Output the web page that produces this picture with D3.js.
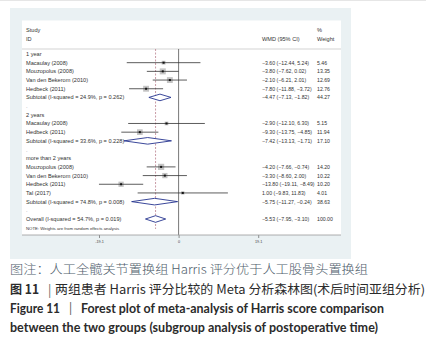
<!DOCTYPE html>
<html><head><meta charset="utf-8">
<script src="https://cdn.jsdelivr.net/npm/d3@7"></script>
<style>
html,body{margin:0;padding:0;background:#fff;}
svg{display:block;}
</style></head>
<body>
<svg id="c" width="432" height="346"></svg>
<script>
// ---- data ----
const groups = ["1 year", "2 years", "more than 2 years"];
const studies = ["Macaulay (2008)", "Mouzopolus (2008)", "Van den Bekerom (2010)", "Hedbeck (2011)",
                 "Macaulay (2008)", "Hedbeck (2011)",
                 "Mouzopolus (2008)", "Van den Bekerom (2010)", "Hedbeck (2011)", "Tal (2017)"];
const studyGroup = [0, 0, 0, 0, 1, 1, 2, 2, 2, 2];
const wmd   = [-3.60, -3.80, -2.10, -7.80, -2.90, -9.30, -4.20, -3.30, -13.80, 1.00];
const lower = [-12.44, -7.62, -6.21, -11.88, -12.10, -13.75, -7.66, -8.60, -19.11, -9.83];
const upper = [5.24, 0.02, 2.01, -3.72, 6.30, -4.85, -0.74, 2.00, -8.49, 11.83];
const weight = [5.46, 13.35, 12.69, 12.76, 5.15, 11.94, 14.20, 10.22, 10.20, 4.01];
const subI2 = ["24.9%", "33.6%", "74.8%"];
const subP = ["0.262", "0.228", "0.008"];
const subWmd = [-4.47, -7.42, -5.75];
const subLower = [-7.13, -13.13, -11.27];
const subUpper = [-1.82, -1.71, -0.24];
const subWeight = [44.27, 17.10, 38.63];
const overall = {wmd: -5.53, lower: -7.95, upper: -3.10, weight: 100.00, i2: "54.7%", p: "0.019"};
const xTicks = [-19.1, 0, 19.1];
const xTickLabels = ["-19.1", "0", "19.1"];
const captionCn1 = "图注：人工全髋关节置换组 Harris 评分优于人工股骨头置换组";
const captionCn2a = "图 11";
const captionCn2b = "两组患者 Harris 评分比较的 Meta 分析森林图(术后时间亚组分析)";
const captionEn1a = "Figure 11";
const captionEn1b = "Forest plot of meta-analysis of Harris score comparison";
const captionEn2 = "between the two groups (subgroup analysis of postoperative time)";

// ---- build rows ----
const f2 = d3.format(".2f");
const rows = [];
groups.forEach((g, gi) => {
  rows.push({type: "group", label: g});
  studies.forEach((s, i) => {
    if (studyGroup[i] === gi) rows.push({type: "study", label: s, est: wmd[i], lo: lower[i], hi: upper[i], w: weight[i]});
  });
  rows.push({type: "sub", label: `Subtotal  (I-squared = ${subI2[gi]}, p = ${subP[gi]})`, est: subWmd[gi], lo: subLower[gi], hi: subUpper[gi], w: subWeight[gi]});
  rows.push({type: "blank", label: "."});
});
rows.push({type: "sub", label: `Overall  (I-squared = ${overall.i2}, p = ${overall.p})`, est: overall.wmd, lo: overall.lower, hi: overall.upper, w: overall.weight});
rows.forEach((r, i) => r.idx = i);

const svg = d3.select("#c");
const FONT = "'Liberation Sans', Arial, sans-serif";

// top faint rule
svg.append("line").attr("x1", 0).attr("x2", 426).attr("y1", 0.5).attr("y2", 0.5).attr("stroke", "#e6e6e6");

// panels
svg.append("rect").attr("x", 10).attr("y", 8).attr("width", 341).attr("height", 251).attr("fill", "#eaf1f3");
svg.append("rect").attr("x", 22).attr("y", 20.5).attr("width", 319).attr("height", 214.5).attr("fill", "#ffffff");

// scales
const x = d3.scaleLinear().domain([-19.1, 19.1]).range([99, 258.2]);
const y = d3.scaleLinear().domain([0, 19]).range([54, 219]);

// header
const hdr = svg.append("g").attr("font-family", FONT).attr("font-size", 5.6).attr("fill", "#333");
hdr.append("text").attr("x", 26).attr("y", 32).text("Study");
hdr.append("text").attr("x", 26).attr("y", 40.5).text("ID");
hdr.append("text").attr("x", 262).attr("y", 40.5).text("WMD (95% CI)");
hdr.append("text").attr("x", 317).attr("y", 31.5).text("%");
hdr.append("text").attr("x", 317).attr("y", 40.5).text("Weight");
svg.append("line").attr("x1", 22).attr("x2", 341).attr("y1", 49).attr("y2", 49).attr("stroke", "#c8c8c8").attr("stroke-width", 0.8);

// reference lines
svg.append("line").attr("x1", x(0)).attr("x2", x(0)).attr("y1", 49).attr("y2", 235).attr("stroke", "#555").attr("stroke-width", 0.8);
svg.append("line").attr("x1", x(overall.wmd)).attr("x2", x(overall.wmd)).attr("y1", 49).attr("y2", 229)
  .attr("stroke", "#b07080").attr("stroke-width", 0.7).attr("stroke-dasharray", "2,1.5");

// row labels
const lab = svg.append("g").attr("font-family", FONT).attr("font-size", 5.6).attr("fill", "#333");
lab.selectAll("text").data(rows).join("text")
  .attr("x", 26).attr("y", d => y(d.idx) + 2)
  .attr("fill", d => d.type === "blank" ? "#999" : "#333")
  .text(d => d.label);

// study CIs and boxes
const st = rows.filter(d => d.type === "study");
svg.append("g").selectAll("rect").data(st).join("rect")
  .attr("x", d => x(d.est) - 1.65 * Math.sqrt(d.w) / 2)
  .attr("y", d => y(d.idx) - 1.65 * Math.sqrt(d.w) / 2)
  .attr("width", d => 1.65 * Math.sqrt(d.w))
  .attr("height", d => 1.65 * Math.sqrt(d.w))
  .attr("fill", "#c4c4c4");
svg.append("g").selectAll("line").data(st).join("line")
  .attr("x1", d => x(d.lo)).attr("x2", d => x(d.hi))
  .attr("y1", d => y(d.idx)).attr("y2", d => y(d.idx))
  .attr("stroke", "#333").attr("stroke-width", 0.8);
svg.append("g").selectAll("rect").data(st).join("rect")
  .attr("x", d => x(d.est) - 1).attr("y", d => y(d.idx) - 1)
  .attr("width", 2).attr("height", 2).attr("fill", "#111");

// diamonds
const sb = rows.filter(d => d.type === "sub");
svg.append("g").selectAll("path").data(sb).join("path")
  .attr("d", d => {
    const cy = y(d.idx);
    return `M${x(d.lo)},${cy} L${x(d.est)},${cy - 3.3} L${x(d.hi)},${cy} L${x(d.est)},${cy + 3.3} Z`;
  })
  .attr("fill", "#fff").attr("stroke", "#25338f").attr("stroke-width", 0.9);

// numeric columns
const numRows = rows.filter(d => d.type === "study" || d.type === "sub");
const num = svg.append("g").attr("font-family", FONT).attr("font-size", 5.2).attr("fill", "#333");
num.selectAll("text.ci").data(numRows).join("text").attr("class", "ci")
  .attr("x", 262).attr("y", d => y(d.idx) + 2)
  .text(d => `${f2(d.est)} (${f2(d.lo)}, ${f2(d.hi)})`);
num.selectAll("text.w").data(numRows).join("text").attr("class", "w")
  .attr("x", 317).attr("y", d => y(d.idx) + 2)
  .text(d => f2(d.w));

// NOTE
svg.append("text").attr("x", 26).attr("y", 230).attr("font-family", FONT).attr("font-size", 4.3).attr("fill", "#333")
  .text("NOTE: Weights are from random effects analysis");

// axis
const axis = d3.axisBottom(x).tickValues(xTicks).tickFormat((d, i) => xTickLabels[i]).tickSize(3).tickPadding(2);
const ax = svg.append("g").attr("transform", "translate(0,235)").call(axis);
ax.select(".domain").remove();
ax.selectAll(".tick line").attr("stroke", "#666").attr("stroke-width", 0.7);
ax.selectAll(".tick text").attr("font-family", FONT).attr("font-size", 3.8).attr("fill", "#444");
svg.append("line").attr("x1", 22).attr("x2", 341).attr("y1", 235).attr("y2", 235).attr("stroke", "#999").attr("stroke-width", 0.8);

// captions
const CN = "'Noto Sans CJK SC', sans-serif";
const EN = "Lato, 'Open Sans', sans-serif";
svg.append("text").attr("x", 10).attr("y", 274).attr("font-family", CN).attr("font-size", 12.5).attr("font-weight", 300)
  .attr("fill", "#50606c").attr("textLength", 358).attr("lengthAdjust", "spacingAndGlyphs").text(captionCn1);

svg.append("text").attr("x", 10).attr("y", 294).attr("font-family", CN).attr("font-size", 12.5).attr("font-weight", 700)
  .attr("fill", "#2b2b2b").attr("textLength", 29).attr("lengthAdjust", "spacingAndGlyphs").text(captionCn2a);
svg.append("text").attr("x", 48).attr("y", 294).attr("font-family", CN).attr("font-size", 12.5)
  .attr("fill", "#666").text("|");
svg.append("text").attr("x", 55).attr("y", 294).attr("font-family", CN).attr("font-size", 12.5)
  .attr("fill", "#2b2b2b").attr("textLength", 370).attr("lengthAdjust", "spacingAndGlyphs").text(captionCn2b);

svg.append("text").attr("x", 10).attr("y", 313).attr("font-family", EN).attr("font-size", 12.5).attr("font-weight", 700)
  .attr("fill", "#2b2b2b").attr("textLength", 50).attr("lengthAdjust", "spacingAndGlyphs").text(captionEn1a);
svg.append("text").attr("x", 69).attr("y", 313).attr("font-family", EN).attr("font-size", 12.5)
  .attr("fill", "#666").text("|");
svg.append("text").attr("x", 81).attr("y", 313).attr("font-family", EN).attr("font-size", 12.5).attr("font-weight", 700)
  .attr("fill", "#2b2b2b").attr("textLength", 303).attr("lengthAdjust", "spacingAndGlyphs").text(captionEn1b);
svg.append("text").attr("x", 10).attr("y", 332).attr("font-family", EN).attr("font-size", 12.5).attr("font-weight", 700)
  .attr("fill", "#2b2b2b").attr("textLength", 368).attr("lengthAdjust", "spacingAndGlyphs").text(captionEn2);
</script>
</body></html>
